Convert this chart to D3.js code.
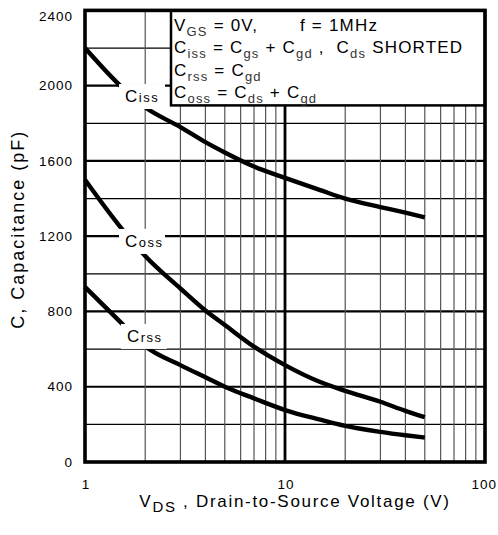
<!DOCTYPE html>
<html>
<head>
<meta charset="utf-8">
<script src="https://cdn.jsdelivr.net/npm/d3@7"></script>
<style>
  body { margin: 0; background: #fff; }
  text { font-family: "Liberation Sans", Arial, sans-serif; fill: #000; }
  .tick-label { font-size: 13.5px; letter-spacing: 1px; }
  .title { font-size: 17px; letter-spacing: 1.7px; }
  .legend { font-size: 17px; letter-spacing: 1.2px; }
  .sub { font-size: 13px; fill: #333; }
</style>
</head>
<body>
<svg id="chart" width="498" height="535"></svg>
<script>
// values
var vds  = [1, 1.5, 2, 3, 4, 5, 7, 10, 15, 20, 30, 40, 50];
var ciss = [2200, 2000, 1885, 1780, 1700, 1645, 1570, 1510, 1445, 1400, 1355, 1325, 1300];
var coss = [1500, 1250, 1095, 922, 805, 728, 613, 515, 425, 378, 320, 272, 238];
var crss = [930, 745, 615, 515, 450, 400, 338, 276, 225, 192, 160, 142, 130];

var yTicks = [0, 400, 800, 1200, 1600, 2000, 2400];
var xTicks = [1, 10, 100];
// label anchor: left edge of text (V) and baseline (pF)
var curveLabels = [
    {name: "C", sub: "iss", v: 1.585, c: 1913},
    {name: "C", sub: "oss", v: 1.585, c: 1143},
    {name: "C", sub: "rss", v: 1.62, c: 638}
];

var svg = d3.select("#chart")
    , margin = {top: 10.4, right: 13, bottom: 73, left: 85}
    , width = 400
    , height = 451.6
    , g = svg.append("g").attr("transform", "translate(" + margin.left + "," + margin.top + ")")
    ;

var x = d3.scaleLog().domain([1, 100]).range([0, width]);
var y = d3.scaleLinear().domain([0, 2400]).range([height, 0]);

// grid
var hLines = d3.range(200, 2400, 200);
g.selectAll("line.hgrid")
    .data(hLines)
    .enter().append("line")
    .attr("class", "hgrid")
    .attr("x1", 0).attr("x2", width)
    .attr("y1", function(d) { return y(d); })
    .attr("y2", function(d) { return y(d); })
    .attr("stroke", "#000")
    .attr("stroke-width", function(d) { return d % 400 === 0 ? 2.2 : 1.2; });

var vLines = d3.range(2, 10).concat(d3.range(20, 100, 10));
g.selectAll("line.vgrid")
    .data(vLines)
    .enter().append("line")
    .attr("class", "vgrid")
    .attr("y1", 0).attr("y2", height)
    .attr("x1", function(d) { return x(d); })
    .attr("x2", function(d) { return x(d); })
    .attr("stroke", "#555")
    .attr("stroke-width", 1.2);

g.append("line")
    .attr("x1", x(10)).attr("x2", x(10))
    .attr("y1", 0).attr("y2", height)
    .attr("stroke", "#000")
    .attr("stroke-width", 2.8);

// curves
var line = d3.line()
    .curve(d3.curveMonotoneX)
    .x(function(d) { return x(d[0]); })
    .y(function(d) { return y(d[1]); });

[ciss, coss, crss].forEach(function(series) {
    g.append("path")
        .datum(vds.map(function(v, i) { return [v, series[i]]; }))
        .attr("fill", "none")
        .attr("stroke", "#000")
        .attr("stroke-width", 4.4)
        .attr("d", line);
});

// curve labels with white knockout
curveLabels.forEach(function(d) {
    var tx = x(d.v), ty = y(d.c);
    g.append("rect")
        .attr("x", tx - 6).attr("y", ty - 18)
        .attr("width", 46).attr("height", 25)
        .attr("fill", "#fff");
    var t = g.append("text")
        .attr("x", tx).attr("y", ty)
        .attr("class", "legend")
        .style("letter-spacing", "0.5px");
    t.append("tspan").text(d.name);
    t.append("tspan").attr("class", "sub").attr("dx", 1).style("fill", "#000")
        .style("letter-spacing", "1.5px").text(d.sub);
});

// legend box
var lx = x(1) + 86, ly = 0;
g.append("rect")
    .attr("x", lx).attr("y", ly)
    .attr("width", width - lx).attr("height", 95)
    .attr("fill", "#fff")
    .attr("stroke", "#000")
    .attr("stroke-width", 2.5);

var legendRows = [
    [["V", 0], ["GS", 1], [" = 0V,", 0]],
    [["C", 0], ["iss", 1], [" = C", 0], ["gs", 1], [" + C", 0], ["gd", 1], [" ,  C", 0], ["ds", 1], [" SHORTED", 0]],
    [["C", 0], ["rss", 1], [" = C", 0], ["gd", 1]],
    [["C", 0], ["oss", 1], [" = C", 0], ["ds", 1], [" + C", 0], ["gd", 1]]
];

legendRows.forEach(function(row, i) {
    var t = g.append("text")
        .attr("class", "legend")
        .attr("x", lx + 3)
        .attr("y", 20.5 + i * 22.5)
        .attr("xml:space", "preserve");
    var down = false;
    row.forEach(function(seg) {
        var s = t.append("tspan").text(seg[0]);
        if (seg[1]) {
            s.attr("class", "sub").attr("dy", down ? 0 : 5);
            down = true;
        } else {
            if (down) s.attr("dy", -5);
            down = false;
        }
    });
});

g.append("text")
    .attr("class", "legend")
    .attr("x", x(1) + 215)
    .attr("y", 20.5)
    .text("f = 1MHz");

// frame
g.append("rect")
    .attr("x", 0).attr("y", 0)
    .attr("width", width).attr("height", height)
    .attr("fill", "none")
    .attr("stroke", "#000")
    .attr("stroke-width", 3.6);

// tick labels
g.selectAll("text.ytick")
    .data(yTicks)
    .enter().append("text")
    .attr("class", "tick-label ytick")
    .attr("x", -12)
    .attr("y", function(d) { return y(d); })
    .attr("dy", d => d === 2400 ? "0.75em" : "0.35em")
    .attr("text-anchor", "end")
    .text(function(d) { return d; });

g.selectAll("text.xtick")
    .data(xTicks)
    .enter().append("text")
    .attr("class", "tick-label xtick")
    .attr("x", function(d) { return d === 100 ? x(d) + 12 : x(d) + 1; })
    .attr("y", height + 27)
    .attr("text-anchor", function(d) { return d === 100 ? "end" : "middle"; })
    .text(function(d) { return d; });

// axis titles
var xt = g.append("text")
    .attr("class", "title")
    .attr("x", width / 2 + 10)
    .attr("y", height + 45)
    .attr("text-anchor", "middle");
xt.append("tspan").text("V");
xt.append("tspan").attr("class", "sub").attr("dy", 5).style("font-size", "15px").style("fill", "#000").text("DS");
xt.append("tspan").attr("dy", -5).text(" , Drain-to-Source Voltage (V)");

g.append("text")
    .attr("class", "title")
    .style("font-size", "18px")
    .style("letter-spacing", "2px")
    .attr("transform", "translate(-61," + (height / 2 - 7) + ") rotate(-90)")
    .attr("text-anchor", "middle")
    .text("C, Capacitance (pF)");
</script>
</body>
</html>
